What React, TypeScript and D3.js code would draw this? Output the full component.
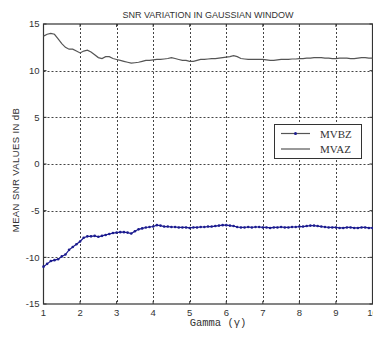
import React, { useEffect, useRef } from 'react';
import * as d3 from 'd3';

const gamma = [
  1.0, 1.1, 1.2, 1.3, 1.4, 1.5, 1.6, 1.7, 1.8, 1.9,
  2.0, 2.1, 2.2, 2.3, 2.4, 2.5, 2.6, 2.7, 2.8, 2.9,
  3.0, 3.1, 3.2, 3.3, 3.4, 3.5, 3.6, 3.7, 3.8, 3.9,
  4.0, 4.1, 4.2, 4.3, 4.4, 4.5, 4.6, 4.7, 4.8, 4.9,
  5.0, 5.1, 5.2, 5.3, 5.4, 5.5, 5.6, 5.7, 5.8, 5.9,
  6.0, 6.1, 6.2, 6.3, 6.4, 6.5, 6.6, 6.7, 6.8, 6.9,
  7.0, 7.1, 7.2, 7.3, 7.4, 7.5, 7.6, 7.7, 7.8, 7.9,
  8.0, 8.1, 8.2, 8.3, 8.4, 8.5, 8.6, 8.7, 8.8, 8.9,
  9.0, 9.1, 9.2, 9.3, 9.4, 9.5, 9.6, 9.7, 9.8, 9.9, 10.0,
];

const mvaz = [
  13.7, 13.9, 14.0, 13.9, 13.4, 12.9, 12.5, 12.3, 12.3, 12.1,
  11.9, 12.1, 12.2, 12.0, 11.7, 11.4, 11.3, 11.5, 11.5, 11.3,
  11.2, 11.1, 11.0, 10.9, 10.8, 10.85, 10.9, 11.0, 11.1, 11.1,
  11.15, 11.2, 11.2, 11.25, 11.3, 11.4, 11.3, 11.2, 11.1, 11.1,
  11.0, 11.0, 11.1, 11.2, 11.2, 11.25, 11.3, 11.3, 11.35, 11.4,
  11.45, 11.5, 11.6, 11.5, 11.3, 11.25, 11.2, 11.2, 11.2, 11.2,
  11.2, 11.15, 11.1, 11.1, 11.15, 11.2, 11.2, 11.2, 11.25, 11.25,
  11.3, 11.3, 11.35, 11.35, 11.4, 11.4, 11.4, 11.35, 11.35, 11.3,
  11.3, 11.35, 11.35, 11.35, 11.3, 11.3, 11.35, 11.4, 11.4, 11.35, 11.35,
];

const mvbz = [
  -11.0, -10.7, -10.4, -10.3, -10.2, -9.9, -9.7, -9.2, -8.9, -8.6,
  -8.3, -7.9, -7.75, -7.75, -7.7, -7.8, -7.7, -7.6, -7.5, -7.4,
  -7.35, -7.3, -7.3, -7.35, -7.45, -7.2, -7.0, -6.9, -6.8, -6.75,
  -6.7, -6.55, -6.6, -6.7, -6.7, -6.75, -6.75, -6.8, -6.8, -6.8,
  -6.85, -6.8, -6.8, -6.75, -6.75, -6.7, -6.7, -6.65, -6.6, -6.55,
  -6.55, -6.6, -6.65, -6.75, -6.8, -6.8, -6.75, -6.8, -6.75, -6.75,
  -6.8, -6.8, -6.85, -6.8, -6.8, -6.75, -6.8, -6.8, -6.75, -6.75,
  -6.7, -6.7, -6.65, -6.6, -6.6, -6.65, -6.7, -6.75, -6.8, -6.8,
  -6.8, -6.85, -6.85, -6.8, -6.8, -6.85, -6.85, -6.8, -6.8, -6.85, -6.85,
];

const xTicks = [1, 2, 3, 4, 5, 6, 7, 8, 9, 10];
const yTicks = [-15, -10, -5, 0, 5, 10, 15];
const seriesNames = ['MVBZ', 'MVAZ'];

const W = 373;
const H = 338;

export default function App() {
  const ref = useRef<SVGSVGElement>(null);

  useEffect(() => {
    const svg = d3.select(ref.current);
    svg.selectAll('*').remove();

    const x = d3.scaleLinear().domain([1, 10]).range([43.5, 372.5]);
    const y = d3.scaleLinear().domain([-15, 15]).range([304, 24]);
    const axisColor = '#333';

    svg.append('rect').attr('width', W).attr('height', H).attr('fill', 'white');

    // grid
    const grid = svg.append('g').attr('stroke', '#444').attr('stroke-dasharray', '2,2').attr('stroke-width', 1);
    xTicks.slice(1, -1).forEach(t => {
      grid.append('line').attr('x1', Math.round(x(t)) + 0.5).attr('x2', Math.round(x(t)) + 0.5)
        .attr('y1', y(15)).attr('y2', y(-15));
    });
    yTicks.slice(1, -1).forEach(t => {
      grid.append('line').attr('x1', x(1)).attr('x2', x(10))
        .attr('y1', Math.round(y(t)) + 0.5).attr('y2', Math.round(y(t)) + 0.5);
    });

    // frame
    svg.append('rect')
      .attr('x', x(1)).attr('y', y(15)).attr('width', x(10) - x(1)).attr('height', y(-15) - y(15))
      .attr('fill', 'none').attr('stroke', axisColor).attr('stroke-width', 1.2);

    // ticks
    const ticks = svg.append('g').attr('stroke', axisColor);
    xTicks.forEach(t => {
      ticks.append('line').attr('x1', x(t)).attr('x2', x(t)).attr('y1', y(-15)).attr('y2', y(-15) - 3);
      ticks.append('line').attr('x1', x(t)).attr('x2', x(t)).attr('y1', y(15)).attr('y2', y(15) + 3);
    });
    yTicks.forEach(t => {
      ticks.append('line').attr('x1', x(1)).attr('x2', x(1) + 3).attr('y1', y(t)).attr('y2', y(t));
      ticks.append('line').attr('x1', x(10)).attr('x2', x(10) - 3).attr('y1', y(t)).attr('y2', y(t));
    });

    const labelFont = 'Arial, "Liberation Sans", sans-serif';
    svg.append('g').selectAll('text').data(yTicks).enter().append('text')
      .attr('x', x(1) - 4).attr('y', d => y(d)).attr('dy', '0.35em')
      .attr('text-anchor', 'end').attr('font-family', labelFont).attr('font-size', 9.5)
      .attr('fill', '#333').text(d => d);

    svg.append('g').selectAll('text').data(xTicks).enter().append('text')
      .attr('x', d => x(d)).attr('y', 316)
      .attr('text-anchor', 'middle').attr('font-family', labelFont).attr('font-size', 9.5)
      .attr('fill', '#333').text(d => d);

    // title and axis labels
    svg.append('text').attr('x', 208).attr('y', 18).attr('text-anchor', 'middle')
      .attr('font-family', labelFont).attr('font-size', 9).attr('fill', '#333')
      .text('SNR VARIATION IN GAUSSIAN WINDOW');

    svg.append('text').attr('transform', 'translate(19,170) rotate(-90)').attr('text-anchor', 'middle')
      .attr('font-family', labelFont).attr('font-size', 9.5).attr('letter-spacing', 0.4).attr('fill', '#333')
      .text('MEAN SNR VALUES IN dB');

    svg.append('text').attr('x', 218).attr('y', 326).attr('text-anchor', 'middle')
      .attr('font-family', '"Liberation Mono", "DejaVu Sans Mono", monospace').attr('font-size', 10.5)
      .attr('fill', '#333').text('Gamma (γ)');

    // lines
    const line = d3.line<number>().x((d, i) => x(gamma[i])).y(d => y(d));
    svg.append('path').datum(mvaz).attr('d', line).attr('fill', 'none')
      .attr('stroke', '#555').attr('stroke-width', 1.2);

    const blue = '#1b1b8f';
    svg.append('path').datum(mvbz).attr('d', line).attr('fill', 'none')
      .attr('stroke', blue).attr('stroke-width', 1.2);
    svg.append('g').selectAll('circle').data(mvbz).enter().append('circle')
      .attr('cx', (d, i) => x(gamma[i])).attr('cy', d => y(d)).attr('r', 1.3).attr('fill', blue);

    // legend
    const lg = svg.append('g');
    lg.append('rect').attr('x', 274.5).attr('y', 124.5).attr('width', 87).attr('height', 34)
      .attr('fill', 'white').attr('stroke', axisColor).attr('stroke-width', 1);
    seriesNames.forEach((name, i) => {
      const ly = 133.5 + i * 15.5;
      lg.append('line').attr('x1', 281).attr('x2', 310).attr('y1', ly).attr('y2', ly)
        .attr('stroke', i === 0 ? '#555' : '#555').attr('stroke-width', 1.2);
      if (i === 0) lg.append('circle').attr('cx', 295.5).attr('cy', ly).attr('r', 1.5).attr('fill', blue);
      lg.append('text').attr('x', 320).attr('y', ly + 4).attr('font-family', '"Liberation Serif", "Times New Roman", serif')
        .attr('font-size', 11).attr('fill', '#333').text(name);
    });
  }, []);

  return (
    <svg ref={ref} width={W} height={H} style={{ position: 'absolute', left: 0, top: 0 }} />
  );
}
